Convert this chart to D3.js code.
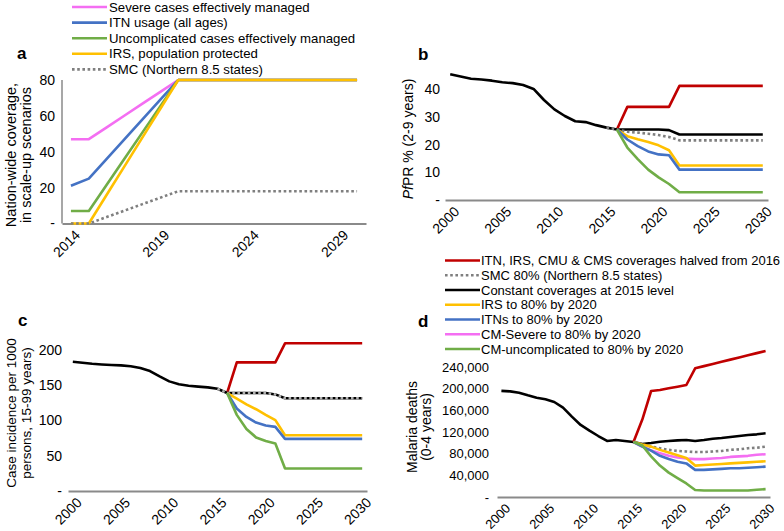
<!DOCTYPE html>
<html><head><meta charset="utf-8">
<script src="https://cdn.jsdelivr.net/npm/d3@7"></script>
<style>
body{margin:0;background:#fff;}
svg{display:block;font-family:"Liberation Sans",Arial,sans-serif;}
</style></head><body>
<svg id="chart" width="784" height="531"></svg>
<script>
// ---------------- DATA ----------------
const yearsA = [2014,2015,2016,2017,2018,2019,2020,2021,2022,2023,2024,2025,2026,2027,2028,2029,2030];
const aSevere  = [47,47,53.6,60.2,66.8,73.4,80,80,80,80,80,80,80,80,80,80,80];
const aITN     = [21,25,36,47,58,69,80,80,80,80,80,80,80,80,80,80,80];
const aUncomp  = [7,7,21.6,36.2,50.8,65.4,80,80,80,80,80,80,80,80,80,80,80];
const aIRS     = [0,0,16,32,48,64,80,80,80,80,80,80,80,80,80,80,80];
const aSMC     = [0,0,3.6,7.2,10.8,14.4,18,18,18,18,18,18,18,18,18,18,18];
const aTicksX  = [2014,2019,2024,2029];
const aTicksY  = [0,20,40,60,80];

const years = [2000,2001,2002,2003,2004,2005,2006,2007,2008,2009,2010,2011,2012,2013,2014,2015,2016,2017,2018,2019,2020,2021,2022,2023,2024,2025,2026,2027,2028,2029,2030];
const xTicksBCD = [2000,2005,2010,2015,2020,2025,2030];

// panel b: PfPR % (2-9 years)
const bConstant = [45.5,44.7,43.9,43.6,43.2,42.6,42.3,41.6,40.2,36.2,32.8,30.4,28.5,28.2,27.1,26.2,25.5,25.5,25.5,25.5,25.5,25.3,23.7,23.7,23.7,23.7,23.7,23.7,23.7,23.7,23.7];
const bHalved   = [null,null,null,null,null,null,null,null,null,null,null,null,null,null,null,null,25.5,33.7,33.7,33.7,33.7,33.7,41.3,41.3,41.3,41.3,41.3,41.3,41.3,41.3,41.3];
const bSMC      = [null,null,null,null,null,null,null,null,null,null,null,null,null,null,null,26.2,25.5,24.7,24.4,24,23.5,22.8,21.6,21.6,21.6,21.6,21.6,21.6,21.6,21.6,21.6];
const bIRS      = [null,null,null,null,null,null,null,null,null,null,null,null,null,null,null,null,25.5,23.1,22,21,19.8,18,12.5,12.5,12.5,12.5,12.5,12.5,12.5,12.5,12.5];
const bITN      = [null,null,null,null,null,null,null,null,null,null,null,null,null,null,null,null,25.5,21.9,19.5,17.6,16.5,16.2,11,11,11,11,11,11,11,11,11];
const bCMU      = [null,null,null,null,null,null,null,null,null,null,null,null,null,null,null,null,25.5,19,14.8,11,8.2,5.8,2.8,2.8,2.8,2.8,2.8,2.8,2.8,2.8,2.8];
const bTicksY   = [0,10,20,30,40];

// panel c: case incidence per 1000 (15-99 years)
const cConstant = [183.4,182,180.5,179.5,178.7,178.2,177,174.5,170.2,162.5,155.5,151.5,149.2,148,147,145,139,139,139,139,139,137,131.5,131.5,131.5,131.5,131.5,131.5,131.5,131.5,131.5];
const cHalved   = [null,null,null,null,null,null,null,null,null,null,null,null,null,null,null,null,139,182.5,182.5,182.5,182.5,182.5,209.5,209.5,209.5,209.5,209.5,209.5,209.5,209.5,209.5];
const cSMC      = [null,null,null,null,null,null,null,null,null,null,null,null,null,null,null,145,139,139,139,139,139,137,131.5,131.5,131.5,131.5,131.5,131.5,131.5,131.5,131.5];
const cIRS      = [null,null,null,null,null,null,null,null,null,null,null,null,null,null,null,null,139,131,123,116,108,100.5,79,79,79,79,79,79,79,79,79];
const cITN      = [null,null,null,null,null,null,null,null,null,null,null,null,null,null,null,null,139,117,105,97,93,91,74,74,74,74,74,74,74,74,74];
const cCMU      = [null,null,null,null,null,null,null,null,null,null,null,null,null,null,null,null,139,108,88,76,71,67.5,32,32,32,32,32,32,32,32,32];
const cTicksY   = [0,50,100,150,200];

// panel d: malaria deaths (0-4 years)
const dConstant = [196000,195000,192500,187700,183300,180300,175400,164900,148300,133000,122400,112600,103400,105200,103400,101500,97800,99700,102000,103400,104600,105200,103400,105200,107600,108900,110800,112600,114500,115700,117600];
const dHalved   = [null,null,null,null,null,null,null,null,null,null,null,null,null,null,null,101500,143000,195700,197500,200700,203600,206800,237600,241600,245600,249600,253600,257600,261600,265600,269500];
const dSMC      = [null,null,null,null,null,null,null,null,null,null,null,null,null,null,null,101500,97000,93000,90000,87000,85000,84000,83000,83000,84000,85000,87000,88000,90000,91000,93000];
const dSevere   = [null,null,null,null,null,null,null,null,null,null,null,null,null,null,null,101500,93000,86000,81000,76000,73000,71000,70000,70000,71000,72000,74000,75000,76000,78000,79000];
const dIRS      = [null,null,null,null,null,null,null,null,null,null,null,null,null,null,null,101500,97000,93000,87000,82000,77000,72000,58000,59000,60000,61000,62000,63000,64000,65000,66000];
const dITN      = [null,null,null,null,null,null,null,null,null,null,null,null,null,null,null,101500,93000,85500,76000,70000,65000,62000,50000,50000,51000,52000,53000,53000,54000,55000,56000];
const dCMU      = [null,null,null,null,null,null,null,null,null,null,null,null,null,null,null,101500,95000,75000,58000,45000,35000,25000,13000,12000,12000,12000,12000,12000,12000,13500,14500];
const dTicksY   = [0,40000,80000,120000,160000,200000,240000];

const legendA = ["Severe cases effectively managed","ITN usage (all ages)","Uncomplicated cases effectively managed","IRS, population protected","SMC (Northern 8.5 states)"];
const legendBD = ["ITN, IRS, CMU & CMS coverages halved from 2016","SMC 80% (Northern 8.5 states)","Constant coverages at 2015 level","IRS to 80% by 2020","ITNs to 80% by 2020","CM-Severe to 80% by 2020","CM-uncomplicated to 80% by 2020"];

// ---------------- STYLE ----------------
const C = {pink:"#f46ef2", blue:"#4472c4", green:"#70ad47", yellow:"#ffc000", gray:"#7f7f7f", red:"#c00000", black:"#000000"};
const LW = 2.6;
const DOT = "2.6,2.6";
const FONT = '"Liberation Sans",Arial,sans-serif';

const svg = d3.select("#chart");
svg.append("rect").attr("width",784).attr("height",531).attr("fill","#fff");

function drawPanel(p){
  const g = svg.append("g");
  const x = d3.scalePoint().domain(p.years).range(p.xRange).padding(0.5);
  const y = d3.scaleLinear().domain(p.yDomain).range(p.yRange);
  // y axis labels
  const ya = g.append("g").attr("transform",`translate(${p.yLabelX},0)`)
    .call(d3.axisLeft(y).tickValues(p.yTicks).tickSize(0).tickPadding(0).tickFormat(p.yFmt));
  ya.select(".domain").remove();
  ya.attr("font-family",FONT).attr("font-size",p.tickFont);
  ya.selectAll("text").attr("fill","#000");
  if(p.yAxisLine){
    g.append("line").attr("x1",p.xRange[0]).attr("x2",p.xRange[0])
      .attr("y1",y(p.yDomain[1])).attr("y2",y(0)).attr("stroke","#8a8a8a").attr("stroke-width",1.5);
  }
  // x axis
  const xa = g.append("g").attr("transform",`translate(0,${y(0)})`)
    .call(d3.axisBottom(x).tickValues(p.xTicks).tickSize(0).tickSizeOuter(0));
  xa.select(".domain").attr("stroke","#8a8a8a").attr("stroke-width",2);
  xa.attr("font-family",FONT).attr("font-size",p.tickFont);
  xa.selectAll("text").attr("fill","#000").attr("text-anchor","end")
    .attr("x",0).attr("y",0).attr("dy","0.35em")
    .attr("transform",`translate(${p.xlOff[0]},${p.xlOff[1]}) rotate(-45)`);
  // series
  const line = d3.line().defined(d=>d[1]!=null).x(d=>x(d[0])).y(d=>y(d[1]));
  p.series.forEach(s=>{
    g.append("path").datum(p.years.map((yr,i)=>[yr,s.values[i]]))
      .attr("d",line).attr("fill","none").attr("stroke",s.color)
      .attr("stroke-width",LW).attr("stroke-linejoin","round")
      .attr("stroke-dasharray",s.dotted?DOT:null);
  });
  // panel letter
  g.append("text").attr("x",p.letter[1]).attr("y",p.letter[2]).text(p.letter[0])
    .attr("font-family",FONT).attr("font-weight","bold").attr("font-size",17);
  // y title
  p.title.forEach((ln,i)=>{
    const tt = svg.append("text").attr("font-family",FONT).attr("font-size",p.titleFont)
      .attr("text-anchor","middle")
      .attr("transform",`translate(${ln.x},${p.titleY}) rotate(-90)`);
    ln.parts.forEach(pt=>{
      tt.append("tspan").text(pt.t).attr("font-style",pt.i?"italic":null);
    });
  });
}

const fmt0 = f => (v => v===0 ? "-" : f(v));

drawPanel({
  years: yearsA, xRange:[62,366], yDomain:[0,80], yRange:[223.5,80],
  yTicks:aTicksY, yFmt: fmt0(d3.format("d")), yLabelX:55, tickFont:14, xTicks:aTicksX,
  xlOff:[6,9], yAxisLine:true,
  series:[
    {values:aSevere, color:C.pink},
    {values:aITN, color:C.blue},
    {values:aUncomp, color:C.green},
    {values:aIRS, color:C.yellow},
    {values:aSMC, color:C.gray, dotted:true}
  ],
  letter:["a",17,59],
  title:[{x:16,parts:[{t:"Nation-wide coverage,"}]},{x:31,parts:[{t:"in scale-up scenarios"}]}],
  titleY:155, titleFont:14.5
});

drawPanel({
  years: years, xRange:[445,768], yDomain:[0,40], yRange:[200,89.5],
  yTicks:bTicksY, yFmt: fmt0(d3.format("d")), yLabelX:440, tickFont:14, xTicks:xTicksBCD,
  xlOff:[6,9],
  series:[
    {values:bHalved, color:C.red},
    {values:bConstant, color:C.black},
    {values:bSMC, color:C.gray, dotted:true},
    {values:bIRS, color:C.yellow},
    {values:bITN, color:C.blue},
    {values:bCMU, color:C.green}
  ],
  letter:["b",418,60],
  title:[{x:413,parts:[{t:"Pf",i:true},{t:"PR % (2-9 years)"}]}],
  titleY:139, titleFont:14
});

drawPanel({
  years: years, xRange:[68,367], yDomain:[0,200], yRange:[491,350],
  yTicks:cTicksY, yFmt: fmt0(d3.format("d")), yLabelX:62, tickFont:14, xTicks:xTicksBCD,
  xlOff:[6,9],
  series:[
    {values:cHalved, color:C.red},
    {values:cConstant, color:C.black},
    {values:cSMC, color:"#b0b0b0", dotted:true},
    {values:cIRS, color:C.yellow},
    {values:cITN, color:C.blue},
    {values:cCMU, color:C.green}
  ],
  letter:["c",18,326],
  title:[{x:16,parts:[{t:"Case incidence per 1000"}]},{x:31,parts:[{t:"persons, 15-99 years)"}]}],
  titleY:413, titleFont:13.5
});

drawPanel({
  years: years, xRange:[497,770], yDomain:[0,240000], yRange:[497,367],
  yTicks:dTicksY, yFmt: fmt0(d3.format(",")), yLabelX:489, tickFont:13, xTicks:xTicksBCD,
  xlOff:[6,9],
  series:[
    {values:dConstant, color:C.black},
    {values:dHalved, color:C.red},
    {values:dSMC, color:C.gray, dotted:true},
    {values:dSevere, color:C.pink},
    {values:dIRS, color:C.yellow},
    {values:dITN, color:C.blue},
    {values:dCMU, color:C.green}
  ],
  letter:["d",418,327],
  title:[{x:417,parts:[{t:"Malaria deaths"}]},{x:431,parts:[{t:"(0-4 years)"}]}],
  titleY:427, titleFont:14
});

// legends
const legAColors = [C.pink,C.blue,C.green,C.yellow,C.gray];
const la = svg.append("g");
legendA.forEach((name,i)=>{
  const yy = 7 + i*15.6;
  la.append("line").attr("x1",72).attr("x2",107).attr("y1",yy).attr("y2",yy)
    .attr("stroke",legAColors[i]).attr("stroke-width",LW)
    .attr("stroke-dasharray",i===4?DOT:null);
  la.append("text").attr("x",109).attr("y",yy).attr("dy","0.35em").text(name)
    .attr("font-family",FONT).attr("font-size",13.2);
});
const legBDColors = [C.red,C.gray,C.black,C.yellow,C.blue,C.pink,C.green];
const lb = svg.append("g");
legendBD.forEach((name,i)=>{
  const yy = 260.5 + i*14.75;
  lb.append("line").attr("x1",445).attr("x2",480).attr("y1",yy).attr("y2",yy)
    .attr("stroke",legBDColors[i]).attr("stroke-width",LW)
    .attr("stroke-dasharray",i===1?DOT:null);
  lb.append("text").attr("x",481).attr("y",yy).attr("dy","0.35em").text(name)
    .attr("font-family",FONT).attr("font-size",13);
});
</script>
</body></html>
